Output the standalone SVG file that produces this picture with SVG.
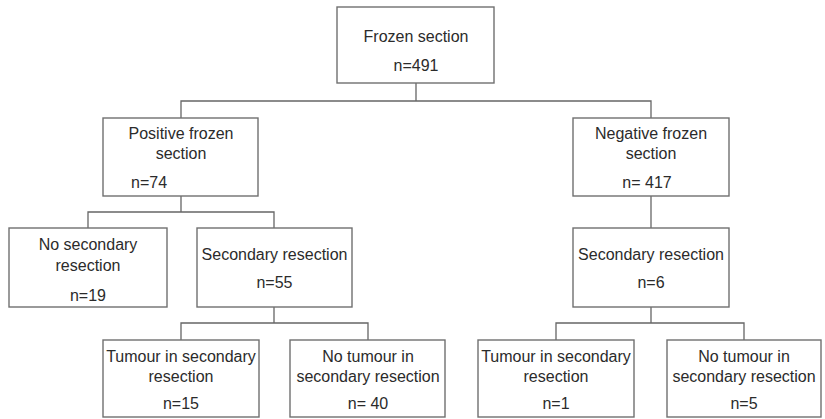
<svg xmlns="http://www.w3.org/2000/svg" width="825" height="419" viewBox="0 0 825 419">
<style>
rect{fill:#ffffff;stroke:#707070;stroke-width:1.4}
text{font-family:"Liberation Sans",Arial,sans-serif;font-size:16px;fill:#2b2b2b;text-anchor:middle}
.c{fill:none;stroke:#666666;stroke-width:1.3}
</style>
<rect x="0" y="0" width="825" height="419" style="stroke:none"/>
<g id="connectors">
<path class="c" d="M416,83V101M181,118V101H651V118"/>
<path class="c" d="M181,196V212M88,228V212H274V228"/>
<path class="c" d="M651,196V228"/>
<path class="c" d="M274,307V323M181,340V323H368V340"/>
<path class="c" d="M651,307V323M556,340V323H744V340"/>
</g>
<g id="frozen">
<rect x="337" y="7" width="157" height="76"/>
<text x="416" y="42">Frozen section</text>
<text x="416" y="71">n=491</text>
</g>
<g id="positive">
<rect x="103" y="118" width="155" height="78"/>
<text x="181" y="139">Positive frozen</text>
<text x="181" y="159">section</text>
<text x="131" y="188" style="text-anchor:start">n=74</text>
</g>
<g id="negative">
<rect x="573" y="118" width="156" height="78"/>
<text x="651" y="139">Negative frozen</text>
<text x="651" y="159">section</text>
<text x="647" y="188">n= 417</text>
</g>
<g id="no-secondary">
<rect x="9" y="228" width="158" height="79"/>
<text x="88" y="250">No secondary</text>
<text x="88" y="271">resection</text>
<text x="88" y="301">n=19</text>
</g>
<g id="secondary-left">
<rect x="197" y="228" width="155" height="79"/>
<text x="274.5" y="260">Secondary resection</text>
<text x="274.5" y="288">n=55</text>
</g>
<g id="secondary-right">
<rect x="573" y="228" width="156" height="79"/>
<text x="651" y="260">Secondary resection</text>
<text x="651" y="288">n=6</text>
</g>
<g id="tumour-left">
<rect x="103" y="340" width="156" height="77"/>
<text x="181" y="362">Tumour in secondary</text>
<text x="181" y="382">resection</text>
<text x="181" y="409">n=15</text>
</g>
<g id="no-tumour-left">
<rect x="290" y="340" width="155" height="77"/>
<text x="368" y="362">No tumour in</text>
<text x="368" y="382">secondary resection</text>
<text x="368" y="409">n= 40</text>
</g>
<g id="tumour-right">
<rect x="478" y="340" width="156" height="77"/>
<text x="556" y="362">Tumour in secondary</text>
<text x="556" y="382">resection</text>
<text x="556" y="409">n=1</text>
</g>
<g id="no-tumour-right">
<rect x="667" y="340" width="154" height="77"/>
<text x="744" y="362">No tumour in</text>
<text x="744" y="382">secondary resection</text>
<text x="744" y="409">n=5</text>
</g>
</svg>
